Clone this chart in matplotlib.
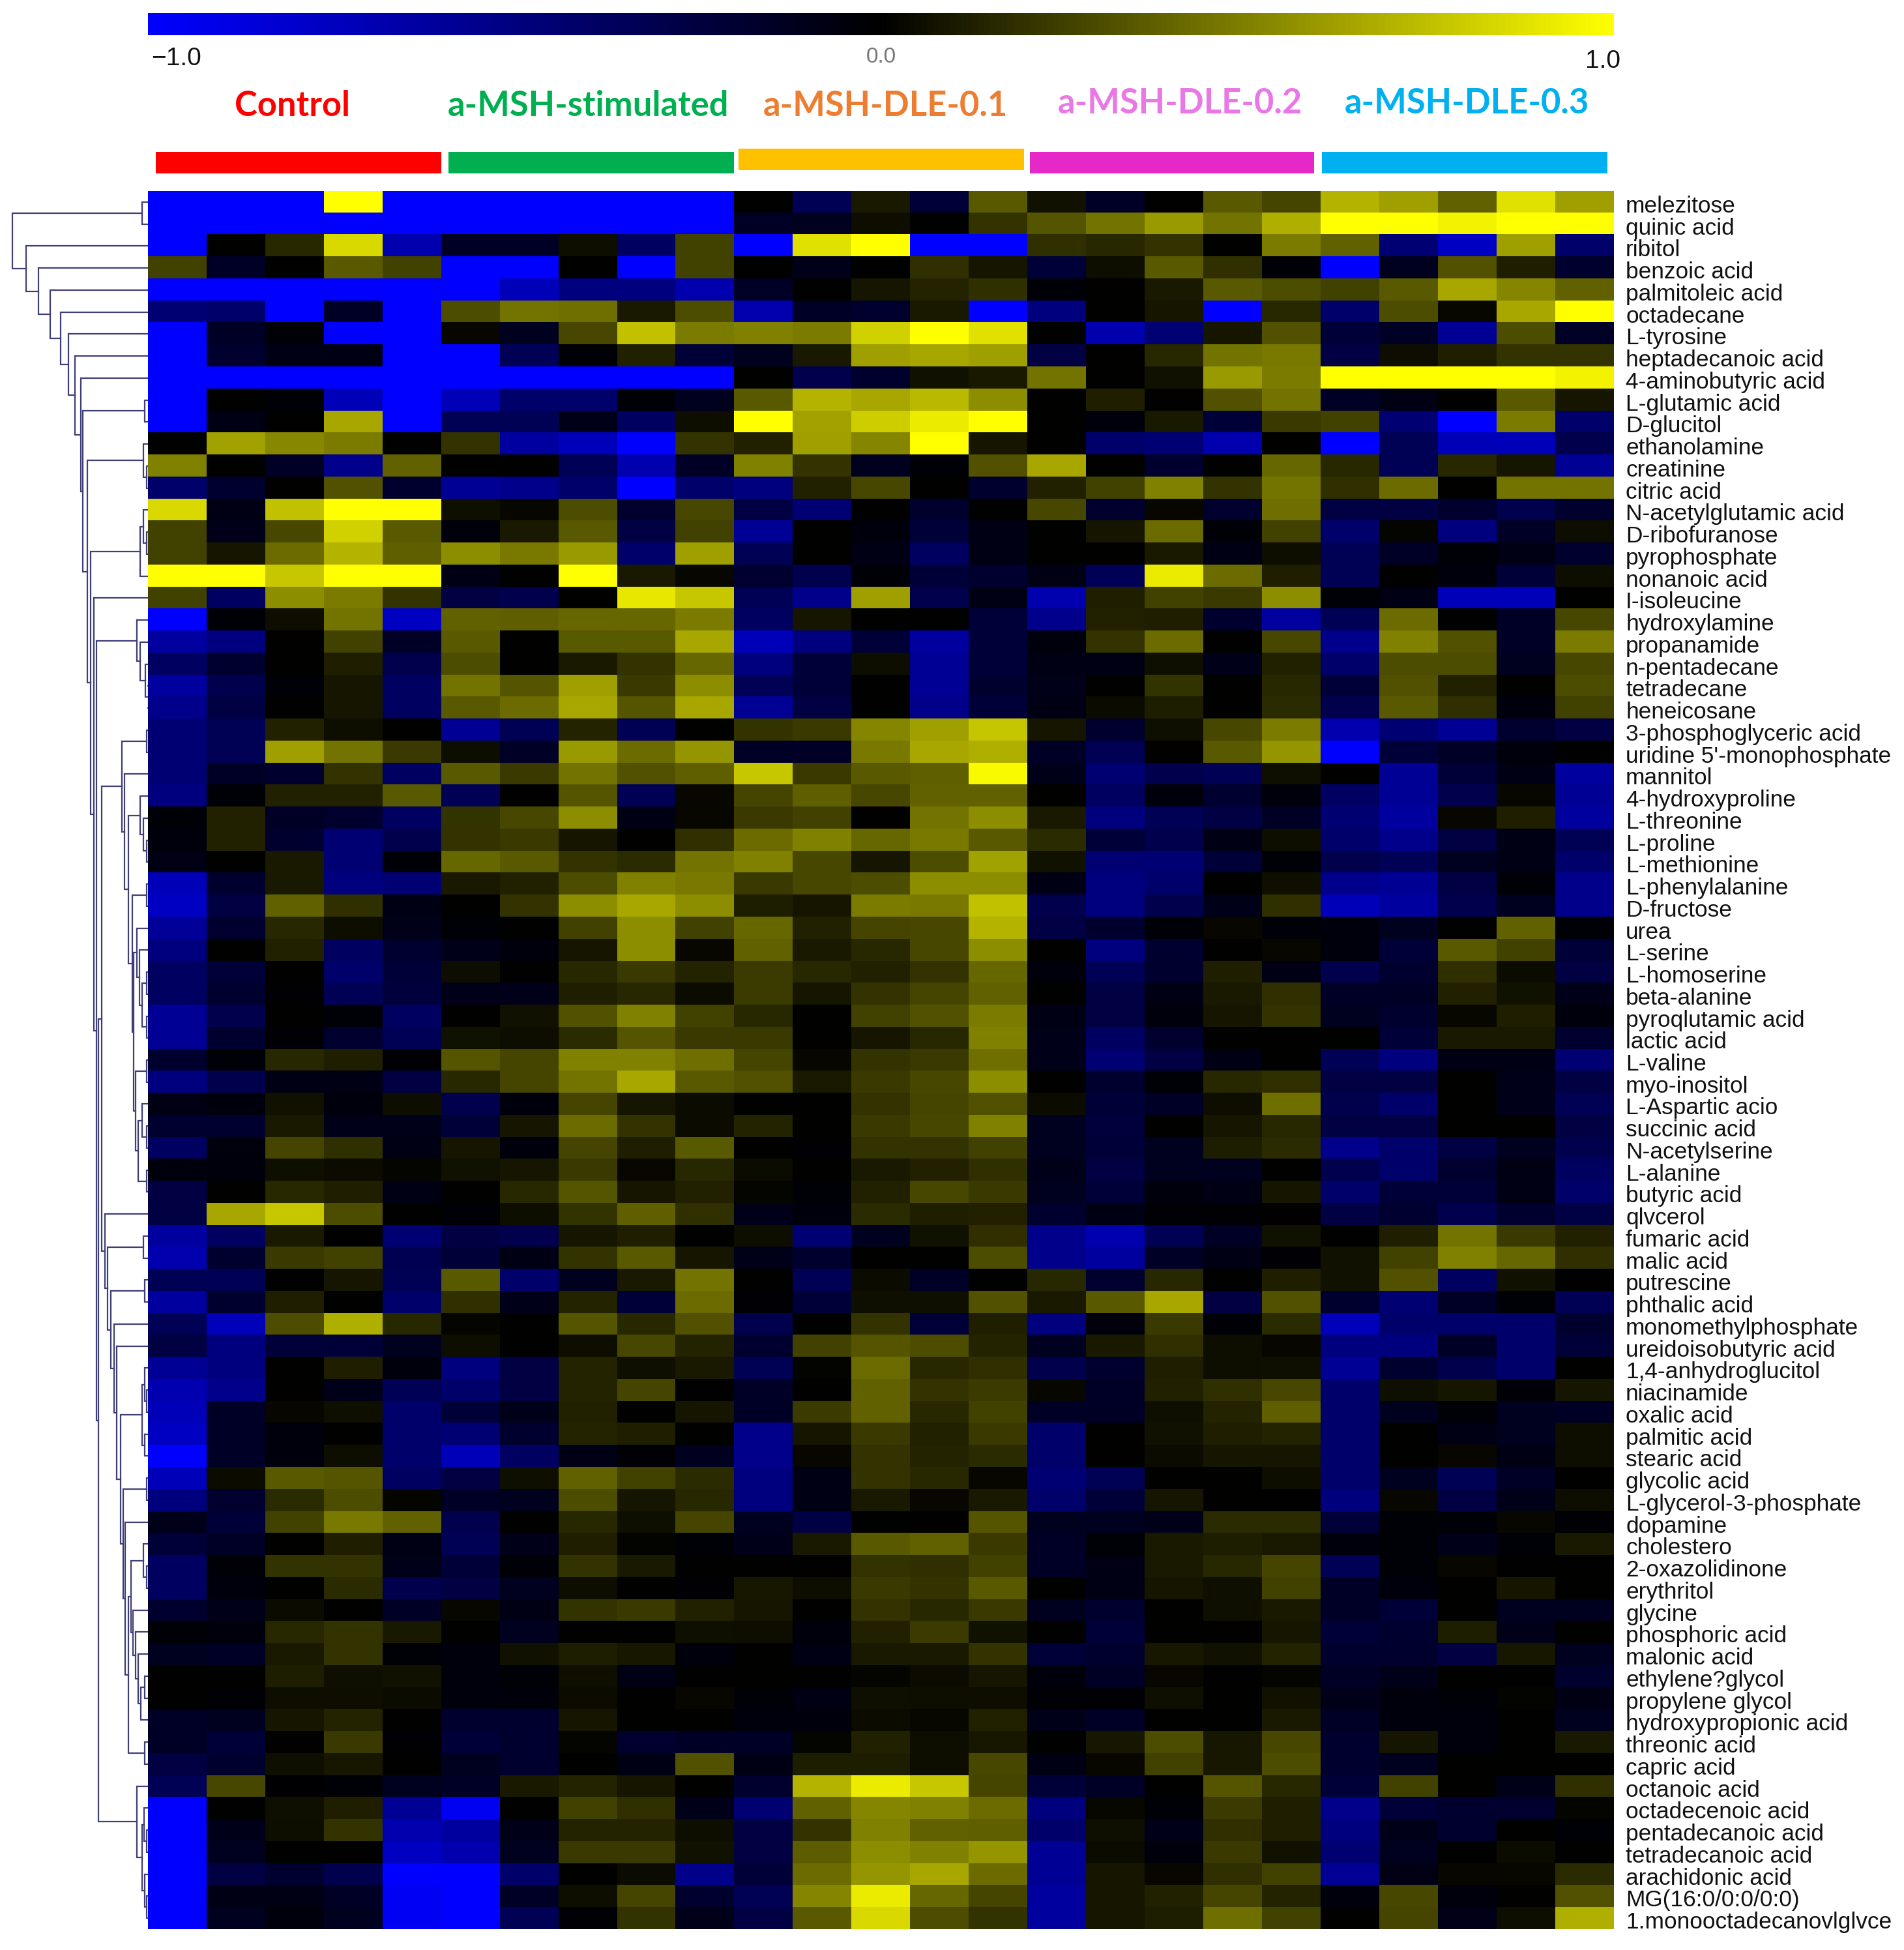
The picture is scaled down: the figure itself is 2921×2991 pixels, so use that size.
#Heatmap of metabolites with row dendrogram and group bars
import numpy as np
import matplotlib
matplotlib.use('Agg')
import matplotlib.pyplot as plt
from matplotlib.colors import LinearSegmentedColormap
from matplotlib.patches import Rectangle
from matplotlib.transforms import ScaledTranslation

W = 2921
H = 2991

metabolites = ['melezitose', 'quinic acid', 'ribitol', 'benzoic acid', 'palmitoleic acid', 'octadecane',
               'L-tyrosine', 'heptadecanoic acid', '4-aminobutyric acid', 'L-glutamic acid', 'D-glucitol',
               'ethanolamine', 'creatinine', 'citric acid', 'N-acetylglutamic acid', 'D-ribofuranose',
               'pyrophosphate', 'nonanoic acid', 'I-isoleucine', 'hydroxylamine', 'propanamide', 'n-pentadecane',
               'tetradecane', 'heneicosane', '3-phosphoglyceric acid', "uridine 5'-monophosphate", 'mannitol',
               '4-hydroxyproline', 'L-threonine', 'L-proline', 'L-methionine', 'L-phenylalanine', 'D-fructose',
               'urea', 'L-serine', 'L-homoserine', 'beta-alanine', 'pyroqlutamic acid', 'lactic acid', 'L-valine',
               'myo-inositol', 'L-Aspartic acio', 'succinic acid', 'N-acetylserine', 'L-alanine', 'butyric acid',
               'qlvcerol', 'fumaric acid', 'malic acid', 'putrescine', 'phthalic acid', 'monomethylphosphate',
               'ureidoisobutyric acid', '1,4-anhydroglucitol', 'niacinamide', 'oxalic acid', 'palmitic acid',
               'stearic acid', 'glycolic acid', 'L-glycerol-3-phosphate', 'dopamine', 'cholestero', '2-oxazolidinone',
               'erythritol', 'glycine', 'phosphoric acid', 'malonic acid', 'ethylene?glycol', 'propylene glycol',
               'hydroxypropionic acid', 'threonic acid', 'capric acid', 'octanoic acid', 'octadecenoic acid',
               'pentadecanoic acid', 'tetradecanoic acid', 'arachidonic acid', 'MG(16:0/0:0/0:0)',
               '1.monooctadecanovlglvce']

groups = ['Control', 'a-MSH-stimulated', 'a-MSH-DLE-0.1', 'a-MSH-DLE-0.2', 'a-MSH-DLE-0.3']
group_text_colors = ['#FF0000', '#00B050', '#ED7D31', '#E978E6', '#00B0F0']
group_bar_colors = ['#FF0000', '#00B050', '#FFC000', '#E628C8', '#00B0F0']

#values in hundredths, 5 replicates per group
heat_rows = [
    [-100,-100,-100,100,-100, -100,-100,-100,-100,-100, 0,-33,10,-22,35, 7,-15,0,35,27, 70,62,38,88,62],
    [-100,-100,-100,-100,-100, -100,-100,-100,-100,-100, -15,-12,5,0,20, 33,45,60,45,68, 100,100,95,100,100],
    [-100,0,15,85,-68, -15,-15,5,-38,25, -100,88,100,-100,-100, 18,15,20,0,48, 38,-45,-76,62,-42],
    [25,-15,0,35,25, -100,-100,0,-100,25, 0,-10,0,18,8, -22,5,35,18,-3, -100,-12,32,12,-18],
    [-100,-100,-100,-100,-100, -100,-72,-50,-50,-68, -15,0,8,14,18, -3,0,10,35,30, 25,35,65,52,38],
    [-45,-42,-100,-15,-100, 30,45,43,10,30, -68,-15,-18,10,-100, -50,0,8,-100,15, -42,30,3,65,100],
    [-100,-15,-3,-100,-100, 3,-12,28,75,48, 50,48,82,100,88, 0,-68,-45,8,32, -22,-15,-58,30,-15],
    [-100,-18,-8,-8,-100, -100,-33,-3,13,-22, -12,10,62,65,62, -26,0,15,45,47, -26,5,12,20,20],
    [-100,-100,-100,-100,-100, -100,-100,-100,-100,-100, 0,-30,-18,7,10, 45,0,7,60,48, 100,100,100,100,95],
    [-100,0,-3,-72,-100, -72,-42,-42,-3,-12, 35,70,65,72,55, 0,12,0,32,45, -15,-8,0,35,8],
    [-100,-8,0,65,-100, -33,-33,-10,-38,5, 100,63,80,92,100, 0,-5,10,-22,22, 25,-45,-100,48,-42],
    [0,63,53,48,0, 20,-62,-72,-100,20, 13,62,52,100,8, 0,-42,-45,-68,0, -100,-33,-72,-72,-30],
    [50,0,-15,-54,38, 0,0,-33,-68,-15, 50,20,-12,-3,32, 65,0,-18,0,40, 15,-33,15,8,-58],
    [-42,-18,0,32,-18, -58,-54,-42,-100,-42, -50,13,28,0,-18, 13,25,50,20,45, 18,42,0,45,45],
    [85,-8,75,100,100, 6,3,30,-18,28, -26,-45,0,-18,0, 28,-18,3,-18,43, -26,-26,-18,-30,-18],
    [25,-10,28,82,35, -5,10,35,-26,25, -58,0,-5,-22,-8, 0,8,42,-3,25, -42,2,-50,-15,5],
    [25,8,42,70,37, 55,47,60,-42,62, -33,0,-8,-38,-8, 0,0,10,-8,5, -33,-15,-3,-8,-18],
    [100,100,78,100,100, -8,0,100,10,3, -18,-30,-3,-22,-18, -8,-33,92,42,12, -33,0,-5,-22,5],
    [25,-38,55,48,20, -26,-30,0,90,78, -33,-54,62,-30,-8, -68,12,25,22,55, -3,-8,-72,-72,0],
    [-100,-3,5,45,-76, 38,37,40,40,48, -38,8,0,0,-22, -54,13,12,-18,-62, -33,42,0,-15,28],
    [-62,-50,0,25,-15, 35,0,35,35,65, -72,-50,-22,-62,-22, -5,20,42,0,28, -54,50,32,-15,48],
    [-38,-18,0,12,-30, 30,0,10,20,40, -50,-22,5,-58,-22, -8,-8,6,-10,13, -42,30,30,-12,28],
    [-62,-30,-3,8,-38, 45,33,62,22,55, -33,-22,0,-58,-18, -10,0,20,0,15, -22,32,13,0,30],
    [-54,-26,0,8,-38, 35,42,65,33,65, -58,-26,0,-54,-22, -8,4,11,0,17, -30,35,18,-5,25],
    [-45,-33,13,5,0, -58,-33,14,-33,0, 20,22,52,62,77, 8,-18,6,28,48, -68,-45,-58,-18,-26],
    [-45,-33,62,45,22, 5,-15,60,42,58, -15,-15,47,65,68, -15,-33,0,35,58, -100,-22,-15,-5,0],
    [-45,-15,-18,20,-38, 35,22,45,32,37, 78,22,35,37,97, -10,-45,-30,-33,6, 0,-58,-22,-8,-62],
    [-50,-3,13,13,35, -33,0,33,-33,3, 27,37,28,38,38, 0,-38,-5,-19,-5, -38,-58,-30,3,-58],
    [-3,13,-15,-18,-38, 20,28,55,-8,3, 22,25,0,45,55, 10,-50,-33,-26,-15, -45,-62,3,12,-62],
    [-5,13,-18,-45,-30, 20,22,8,0,18, 42,50,40,47,35, 17,-22,-30,-8,5, -42,-54,-26,-8,-33],
    [-8,0,10,-45,-3, 40,35,20,17,45, 50,28,8,30,63, 7,-45,-45,-22,-3, -30,-33,-12,-8,-42],
    [-72,-18,10,-50,-45, 10,13,30,50,47, 22,28,30,55,55, -8,-50,-42,0,6, -54,-58,-26,-3,-54],
    [-76,-26,38,18,-8, 0,20,55,65,55, 11,8,48,47,75, -30,-50,-30,-10,18, -72,-62,-30,-12,-54],
    [-60,-18,15,5,-10, -3,0,25,55,25, 40,13,27,28,70, -26,-18,-3,3,-3, -5,-12,0,38,-3],
    [-50,0,13,-38,-18, -10,-5,8,55,3, 38,10,15,28,55, 0,-50,-18,0,3, -5,-22,35,25,-22],
    [-38,-22,0,-42,-22, 5,0,15,22,14, 23,15,13,20,40, -5,-33,-18,12,-8, -30,-18,18,4,-26],
    [-38,-18,-2,-33,-24, -10,-10,12,16,4, 23,8,20,27,38, 0,-26,-8,10,18, -15,-15,13,7,-10],
    [-58,-30,0,-3,-38, 0,7,32,50,25, 16,0,25,32,48, -8,-26,-5,8,20, -12,-18,3,12,-5],
    [-58,-18,-2,-18,-33, 7,5,17,33,22, 22,0,8,16,50, -10,-38,-18,0,0, 0,-22,10,10,-18],
    [-18,-3,15,12,-2, 33,27,50,50,43, 27,3,20,22,43, -10,-45,-26,-8,0, -33,-50,-8,-8,-45],
    [-50,-30,-8,-8,-26, 15,27,45,65,35, 32,10,22,28,55, 0,-18,-3,15,18, -26,-26,0,-10,-26],
    [-8,-5,7,-5,5, -30,-5,27,8,4, 0,0,20,27,32, 4,-22,-15,5,43, -30,-42,0,-10,-33],
    [-18,-18,10,-10,-10, -22,8,42,20,4, 14,0,22,28,50, -12,-24,0,8,15, -26,-26,0,0,-26],
    [-38,-5,27,18,-8, 8,-5,27,12,35, 0,-2,20,20,25, -12,-22,-12,11,17, -54,-42,-26,-12,-30],
    [-5,-5,6,4,2, 7,8,22,3,15, 4,0,10,13,18, -10,-26,-12,-12,0, -30,-42,-18,-8,-38],
    [-26,0,15,12,-8, 0,15,33,8,13, 2,-3,13,28,22, -12,-22,-5,-8,8, -42,-22,-22,-8,-42],
    [-26,65,78,30,0, -3,5,20,37,18, -10,-5,17,12,13, -18,-8,-2,-2,0, -26,-19,-30,-18,-26],
    [-62,-38,10,0,-45, -26,-30,8,12,0, 5,-45,-12,7,18, -54,-68,-33,-15,7, 0,12,45,22,13],
    [-68,-18,22,25,-32, -22,-8,20,35,8, -10,-18,0,0,30, -54,-62,-15,-8,-2, 7,25,50,40,18],
    [-33,-33,0,8,-33, 35,-42,-12,10,45, 0,-33,4,-15,0, 15,-18,15,0,12, 7,32,-38,7,0],
    [-62,-18,12,0,-42, 18,-10,14,-22,42, -2,-22,6,6,32, 10,35,65,-26,32, -18,-45,-15,-3,-33],
    [-33,-72,30,68,15, 2,0,33,15,32, -30,0,20,-22,12, -50,-5,22,-3,17, -72,-42,-42,-42,-18],
    [-26,-50,-22,-22,-12, 5,0,5,28,14, -18,25,33,30,14, -12,10,18,5,3, -50,-50,-15,-42,-22],
    [-58,-50,0,12,-5, -50,-26,14,6,10, -33,1,42,16,18, -30,-18,12,5,6, -58,-18,-30,-42,0],
    [-68,-54,0,-10,-33, -42,-26,14,27,0, -15,0,38,20,23, 3,-15,13,18,28, -42,6,8,-3,8],
    [-72,-15,3,6,-42, -22,-10,13,0,8, -15,23,38,15,25, -15,-15,6,14,37, -42,-12,-3,-12,-15],
    [-76,-15,-5,0,-42, -45,-18,14,12,0, -54,8,22,13,22, -42,0,7,12,14, -42,0,-8,-12,5],
    [-100,-15,-5,5,-42, -72,-38,-8,-2,-12, -54,3,20,14,17, -42,0,4,8,8, -42,0,3,-8,5],
    [-72,4,35,33,-38, -26,6,38,25,17, -50,-8,20,16,3, -45,-33,0,0,5, -42,-12,-33,-15,0],
    [-50,-18,17,30,2, -15,-12,30,8,16, -50,-8,10,3,10, -42,-22,8,0,0, -50,3,-26,-10,5],
    [-10,-22,25,47,38, -30,0,15,6,27, -12,-26,0,0,33, -12,-12,-10,17,17, -22,-3,-3,3,-2],
    [-22,-15,0,12,-8, -33,-10,12,1,-3, -10,10,35,38,22, -15,-3,10,11,10, -5,-3,-10,-3,10],
    [-38,-3,20,20,-10, -22,-3,20,10,0, 0,0,20,18,25, -15,-8,10,16,27, -33,-3,3,0,0],
    [-38,-5,0,17,-30, -26,-12,5,0,-2, 9,5,22,20,35, 0,-8,8,6,25, -15,-5,0,8,0],
    [-18,-10,4,0,-15, 3,-8,20,22,13, 8,0,20,15,22, -12,-18,0,6,10, -15,-22,0,-12,-12],
    [-3,-5,15,20,10, 0,-12,0,0,6, 5,-5,13,23,7, 0,-22,0,0,8, -22,-18,11,-10,0],
    [-12,-15,10,20,-3, -5,7,11,9,-5, 0,-8,10,10,20, -22,-18,9,7,14, -18,-18,-26,9,-12],
    [0,0,11,6,7, -5,-3,6,-8,0, 0,0,2,4,8, -5,-15,3,0,2, -15,-10,0,0,-18],
    [0,-2,5,5,4, -5,-4,4,0,3, -3,-8,6,5,5, -2,-2,6,0,7, -10,-5,-3,1,-8],
    [-15,-12,8,14,0, -18,-18,8,0,0, -5,-5,4,3,13, -10,-15,0,0,10, -15,-5,-5,0,-12],
    [-15,-22,0,22,-2, -22,-18,2,-18,-15, -15,2,13,5,9, 0,9,30,9,28, -18,8,-5,0,10],
    [-26,-18,6,9,0, -12,-18,0,-8,32, -8,11,11,5,28, -8,3,25,9,30, -18,-12,0,0,0],
    [-33,28,-1,-3,-12, -15,10,14,8,0, -18,70,92,78,27, -22,-15,0,33,15, -22,25,0,-10,18],
    [-100,0,6,12,-58, -95,0,25,18,-10, -45,38,52,50,42, -50,3,-3,23,12, -54,-22,-18,-18,2],
    [-100,-10,5,20,-68, -62,-10,14,14,5, -26,20,50,38,37, -42,6,-10,18,12, -50,-10,-18,0,-3],
    [-100,-12,0,0,-76, -68,-12,22,22,7, -26,36,55,50,58, -58,4,-5,22,7, -45,-12,0,4,0],
    [-100,-26,-19,-30,-100, -100,-42,0,4,-54, -22,42,58,65,42, -58,8,3,18,25, -58,-8,3,3,17],
    [-100,-8,-8,-15,-95, -100,-15,5,27,-18, -33,52,92,40,27, -62,8,13,27,14, -5,28,-5,0,32],
    [-100,-12,-5,-12,-95, -100,-33,-2,20,-10, -26,35,85,30,20, -62,8,11,43,25, 0,27,-10,5,68],
]

#tree: (node depth, upper child, lower child), an int is a row
cluster_19_23 = (210, 19, (215, 20, (223, 21, (228, 22, 23))))
cluster_24_45 = (187, (225, 24, 25),
                 (191, 26,
                  (197, (215, 27, (220, 28, (225, 29, 30))),
                   (203, (225, 31, 32),
                    (205, (210, 33, (214, 34, (218, (225, 35, 36), (225, 37, 38)))),
                     (208, (225, 39, 40),
                      (212, (218, 41, (225, 42, 43)), (225, 44, 45))))))))
cluster_61_71 = (197, (201, (220, 61, (225, 62, 63)),
                       (204, 64, (208, 65, (212, 66, (216, (222, 67, 68), 69))))),
                 (222, 70, 71))
cluster_47_71 = (165, (220, 47, 48),
                 (170, (222, 49, 50),
                  (175, 51,
                   (179, 52,
                    (185, (218, (222, 53, (225, 54, 55)), (222, 56, 57)),
                     (189, (225, 58, 59), (192, 60, cluster_61_71)))))))
cluster_72_78 = (210, 72, (218, (221, 73, (225, 74, 75)), (222, 76, (225, 77, 78))))
lower_tree = (151, (156, cluster_24_45, (161, 46, cluster_47_71)), cluster_72_78)
tree = (19, (218, 0, 1),
        (40, 2, (59, 3, (77, 4, (93, 5, (105, 6, (115, 7, (124, 8,
         (127, (222, 9, 10),
          (134, (220, 11, (225, 12, 13)),
           (139, (215, (220, 14, (225, 15, 16)), 17),
            (144, 18,
             (148, cluster_19_23, lower_tree)))))))))))))

heat_left, heat_right, heat_top, heat_bottom = 227, 2476, 293, 2959
bar_spans = [(239, 677, 233), (688, 1126, 233), (1133, 1571, 228), (1580, 2016, 233), (2028, 2466, 233)]
group_label_pos = [(448, 162), (902, 162), (1358, 163), (1810, 159), (2250, 159)]


def px_axes(x0, y0, x1, y1):
    return fig.add_axes([x0/W, 1-y1/H, (x1-x0)/W, (y1-y0)/H])


def draw_tree(ax, node):
    if isinstance(node, int):
        return heat_left, node+0.5
    depth, a, b = node
    xa, ya = draw_tree(ax, a)
    xb, yb = draw_tree(ax, b)
    ax.plot([xa, depth, depth, xb], [ya, ya, yb, yb], color='#3f3f78', lw=1.6, solid_joinstyle='miter')
    return depth, (ya+yb)/2


plt.rcParams['font.family'] = ['Liberation Sans', 'DejaVu Sans']
fig = plt.figure(figsize=(W/100, H/100), dpi=100)
cmap = LinearSegmentedColormap.from_list('byk', ['#0000ff', '#000000', '#ffff00'])

#heatmap
ax = px_axes(heat_left, heat_top, heat_right, heat_bottom)
heat = np.array(heat_rows)/100
mesh = ax.imshow(heat, cmap=cmap, vmin=-1, vmax=1, aspect='auto', interpolation='nearest',
                 extent=[0, heat.shape[1], heat.shape[0], 0])
ax.set_xticks([])
ax.yaxis.tick_right()
ax.set_yticks(np.arange(len(metabolites))+0.5)
ax.set_yticklabels(metabolites, fontsize=25.4, color='#111111')
ax.tick_params(axis='y', length=0, pad=13)
shift = ScaledTranslation(0, -3/100, fig.dpi_scale_trans)
for label in ax.get_yticklabels():
    label.set_transform(label.get_transform()+shift)
for s in ax.spines.values():
    s.set_visible(False)

#dendrogram
ax_tree = px_axes(0, heat_top, heat_left, heat_bottom)
draw_tree(ax_tree, tree)
ax_tree.set_xlim(0, heat_left)
ax_tree.set_ylim(len(metabolites), 0)
ax_tree.axis('off')

#colour scale
cax = px_axes(heat_left, 20, heat_right, 54)
cb = fig.colorbar(mesh, cax=cax, orientation='horizontal')
cb.set_ticks([])
cb.outline.set_visible(False)
fig.text(271/W, 1-90/H, '\u22121.0', fontsize=28, ha='center', va='center', color='#111111')
fig.text(1352/W, 1-88/H, '0.0', fontsize=24, ha='center', va='center', color='#777777')
fig.text(2459/W, 1-94/H, '1.0', fontsize=28, ha='center', va='center', color='#111111')

#group bars and names
for name, tc, bc, span, pos in zip(groups, group_text_colors, group_bar_colors, bar_spans, group_label_pos):
    fig.add_artist(Rectangle((span[0]/W, 1-(span[2]+33)/H), (span[1]-span[0])/W, 33/H,
                             transform=fig.transFigure, facecolor=bc, edgecolor='none'))
    fig.text(pos[0]/W, 1-pos[1]/H, name, fontsize=37.8, family='Lato', fontweight='bold', color=tc,
             ha='center', va='center')

fig.savefig('out.png', dpi=100, facecolor='white')
